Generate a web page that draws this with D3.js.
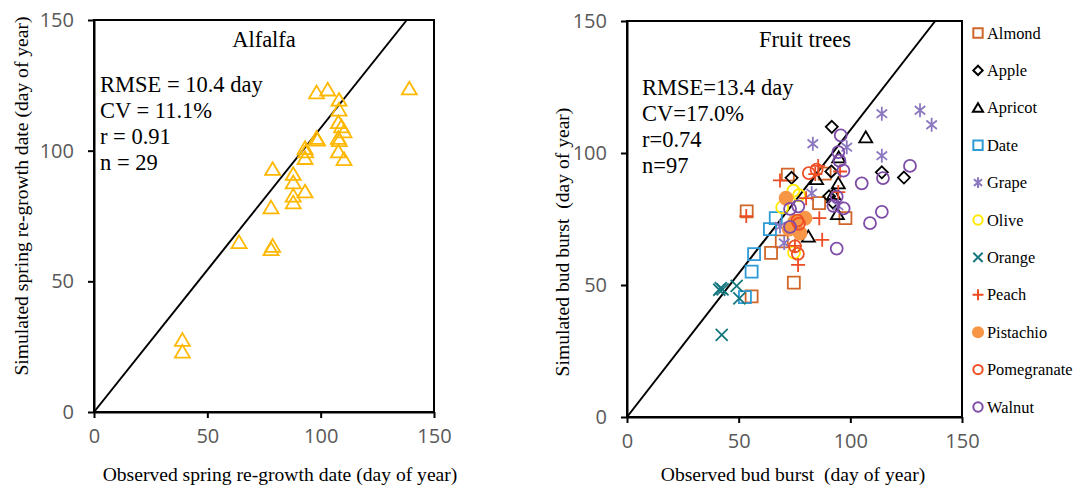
<!DOCTYPE html>
<html>
<head>
<meta charset="utf-8">
<script src="https://cdn.jsdelivr.net/npm/d3@7"></script>
<style>
  body { margin: 0; background: #fff; }
  .tick-label { font-family: "Open Sans", "Noto Sans", sans-serif; font-size: 20px; fill: #595959; }
  .serif { font-family: "Liberation Serif", "DejaVu Serif", serif; fill: #000; }
</style>
</head>
<body>
<svg id="chart" width="1075" height="486"></svg>
<script>
// ---- data: [observed, simulated] day of year ----
const alfalfa = [
  [139.1, 123.8], [98.2, 122.3], [103.1, 123.4], [108.1, 119.5], [108.1, 115.7],
  [107.8, 110.9], [109.2, 109.3], [110.3, 107.4], [107.8, 104.9], [108.2, 104.0],
  [107.8, 99.7], [110.3, 96.8], [98.2, 104.9], [98.6, 104.2], [93.1, 101.0],
  [93.4, 99.7], [93.1, 97.2], [78.8, 93.0], [87.9, 91.1], [87.9, 87.9],
  [93.1, 84.4], [87.9, 82.8], [87.9, 80.2], [78.1, 78.3], [64.0, 65.0],
  [78.8, 63.6], [78.1, 62.3], [39.0, 27.6], [39.0, 23.1]
];

const species = ["Almond", "Apple", "Apricot", "Date", "Grape", "Olive", "Orange",
                 "Peach", "Pistachio", "Pomegranate", "Walnut"];

const almond = [[53.6, 77.9], [72, 91.8], [88.5, 92.2], [86, 81], [97.8, 75.3], [64.5, 62.2],
                [69.3, 66.5], [74.7, 50.9], [55.8, 45.7]];
const apple = [[91.7, 109.9], [73.7, 90.6], [114.1, 92.7], [124, 90.7], [91.5, 93], [90.5, 83.6], [92.2, 81.3]];
const apricot = [[106.9, 106], [94.8, 98.4], [84.9, 90.2], [94.6, 88.6], [94.2, 76.9], [81.2, 68.4], [92.5, 84.5]];
const date = [[52.8, 45.4], [55.8, 55.1], [56.9, 61.7], [64, 71.2], [66.6, 75.3]];
const grape = [[114.1, 114.9], [131.2, 116.2], [136.4, 110.7], [114.1, 99], [83.2, 103.5], [98.4, 102.2],
               [82.7, 84.8], [70.4, 65.9], [94.5, 80], [68.5, 72.2]];
const olive = [[74.5, 85.7], [69.5, 79.4], [74.8, 62.3], [77, 84]];
const orange = [[41.3, 48.2], [42.8, 48.3], [42, 48.8], [49.1, 49.7], [50.3, 44.9], [42.4, 31.1]];
const peach = [[85.6, 95.1], [68.5, 89.6], [95.4, 93], [94.6, 85.2], [53.4, 76.1], [86.1, 75.3],
               [87.4, 67.1], [76.6, 57.6], [80.2, 82.9], [75.2, 64.8], [84.3, 92]];
const pistachio = [[71.2, 82.9], [79.7, 75.3], [72.6, 71.2], [77.5, 69.6], [75.2, 74.1]];
const pomegranate = [[81.4, 92.4], [84.9, 93.7], [76.3, 74.4], [77, 73.2], [75.2, 64.6], [76.5, 61.8]];
const walnut = [[95.7, 106.7], [94.6, 100.3], [95.1, 97.1], [96.9, 93.3], [105.1, 88.5], [114.6, 90.5],
                [126.7, 95.1], [114.1, 77.7], [108.8, 73.4], [93.9, 63.8], [92.4, 80], [97, 79],
                [73, 78.8], [76.7, 79.8], [73, 72], [93.9, 83.5]];

const fruitValues = [almond, apple, apricot, date, grape, olive, orange, peach, pistachio, pomegranate, walnut];

const ticks = [0, 50, 100, 150];
const lineEnd = [[0, 0], [138, 150]];

const leftStats = ["RMSE = 10.4 day", "CV = 11.1%", "r = 0.91", "n = 29"];
const rightStats = ["RMSE=13.4 day", "CV=17.0%", "r=0.74", "n=97"];

// ---- marker shapes (custom d3.symbol types, size = half width) ----
const shapes = {
  square: { draw(c, r) { c.rect(-r, -r, 2 * r, 2 * r); } },
  diamond: { draw(c, r) { c.moveTo(0, -r); c.lineTo(r, 0); c.lineTo(0, r); c.lineTo(-r, 0); c.closePath(); } },
  triangle: { draw(c, r) { c.moveTo(0, -r * 0.9); c.lineTo(r, r * 0.8); c.lineTo(-r, r * 0.8); c.closePath(); } },
  circle: { draw(c, r) { c.moveTo(r, 0); c.arc(0, 0, r, 0, 2 * Math.PI); } },
  plus: { draw(c, r) { c.moveTo(-r, 0); c.lineTo(r, 0); c.moveTo(0, -r); c.lineTo(0, r); } },
  times: { draw(c, r) { const a = r * 0.8; c.moveTo(-a, -a); c.lineTo(a, a); c.moveTo(a, -a); c.lineTo(-a, a); } },
  asterisk: { draw(c, r) { const a = r * 0.75; c.moveTo(0, -r); c.lineTo(0, r); c.moveTo(-a, -a * 0.8); c.lineTo(a, a * 0.8); c.moveTo(a, -a * 0.8); c.lineTo(-a, a * 0.8); } }
};

const styles = [
  { shape: "square", color: "#D0672A", fill: "none", r: 6 },
  { shape: "diamond", color: "#000", fill: "none", r: 6 },
  { shape: "triangle", color: "#000", fill: "none", r: 6.5 },
  { shape: "square", color: "#2E9BD6", fill: "none", r: 6 },
  { shape: "asterisk", color: "#8C78C0", fill: "none", r: 7 },
  { shape: "circle", color: "#FFEA00", fill: "none", r: 6 },
  { shape: "times", color: "#16787E", fill: "none", r: 7.5 },
  { shape: "plus", color: "#EE4B22", fill: "none", r: 7 },
  { shape: "circle", color: "#F79646", fill: "#F79646", r: 6.5 },
  { shape: "circle", color: "#EE5026", fill: "none", r: 6 },
  { shape: "circle", color: "#7E4CA8", fill: "none", r: 6 }
];

const svg = d3.select("#chart");

function drawPanel(xr, yr, opts) {
  const x = d3.scaleLinear().domain([0, 150]).range(xr);
  const y = d3.scaleLinear().domain([0, 150]).range(yr);
  const g = svg.append("g");

  // frame
  g.append("rect").attr("x", xr[0]).attr("y", yr[1])
    .attr("width", xr[1] - xr[0]).attr("height", yr[0] - yr[1])
    .attr("fill", "none").attr("stroke", "#000").attr("stroke-width", 2);

  const xAxis = g.append("g").attr("transform", `translate(0,${yr[0]})`)
    .call(d3.axisBottom(x).tickValues(ticks).tickSize(6).tickSizeOuter(0).tickPadding(11));
  const yAxis = g.append("g").attr("transform", `translate(${xr[0]},0)`)
    .call(d3.axisLeft(y).tickValues(ticks).tickSize(6).tickSizeOuter(0).tickPadding(opts.yPad));
  [xAxis, yAxis].forEach(a => {
    a.select(".domain").attr("stroke", "#000").attr("stroke-width", 2);
    a.selectAll(".tick line").attr("stroke", "#000").attr("stroke-width", 2);
    a.selectAll(".tick text").attr("class", "tick-label").attr("font-size", null).attr("font-family", null).attr("fill", null);
  });

  // 1:1 line
  g.append("path").datum(lineEnd)
    .attr("d", d3.line().x(d => x(d[0])).y(d => y(d[1])))
    .attr("stroke", "#000").attr("stroke-width", 2).attr("fill", "none");

  // panel title
  g.append("text").attr("class", "serif").attr("x", opts.titleX).attr("y", 47)
    .attr("text-anchor", "middle").attr("font-size", 22.5).text(opts.title);

  g.append("g").selectAll("text").data(opts.stats).join("text")
    .attr("class", "serif").attr("font-size", 22.5)
    .attr("x", opts.statX).attr("y", (d, i) => opts.statY + i * 26).text(d => d);

  // axis titles
  g.append("text").attr("class", "serif").attr("font-size", 19.6)
    .attr("x", opts.xTitleX).attr("y", 481).attr("text-anchor", "middle")
    .attr("xml:space", "preserve").text(opts.xTitle);
  g.append("text").attr("class", "serif").attr("font-size", 19.6)
    .attr("transform", `translate(${opts.yTitleX},${opts.yTitleY}) rotate(-90)`)
    .attr("text-anchor", "middle").attr("xml:space", "preserve").text(opts.yTitle);

  return { g, x, y };
}

// ---- left panel: alfalfa ----
const left = drawPanel([94, 434], [412, 20], {
  title: "Alfalfa", titleX: 264, stats: leftStats, statX: 100, statY: 92, yPad: 14,
  xTitle: "Observed spring re-growth date (day of year)", xTitleX: 280,
  yTitle: "Simulated spring re-growth date (day of year)", yTitleX: 28, yTitleY: 196
});
left.g.append("g").selectAll("path").data(alfalfa).join("path")
  .attr("transform", d => `translate(${left.x(d[0])},${left.y(d[1])})`)
  .attr("d", d3.symbol().type(shapes.triangle).size(7.5))
  .attr("fill", "none").attr("stroke", "#FFB800").attr("stroke-width", 1.8);

// ---- right panel: fruit trees ----
const right = drawPanel([627, 962], [417, 21], {
  title: "Fruit trees", titleX: 805, stats: rightStats, statX: 642, statY: 95, yPad: 14,
  xTitle: "Observed bud burst  (day of year)", xTitleX: 793,
  yTitle: "Simulated bud burst  (day of year)", yTitleX: 569, yTitleY: 242
});
fruitValues.forEach((pts, i) => {
  const s = styles[i];
  right.g.append("g").selectAll("path").data(pts).join("path")
    .attr("transform", d => `translate(${right.x(d[0])},${right.y(d[1])})`)
    .attr("d", d3.symbol().type(shapes[s.shape]).size(s.r))
    .attr("fill", s.fill).attr("stroke", s.color).attr("stroke-width", 1.8);
});

// ---- legend ----
const legend = svg.append("g").attr("transform", "translate(978,33)");
const rows = legend.selectAll("g").data(species).join("g")
  .attr("transform", (d, i) => `translate(0,${i * 37.4})`);
rows.append("path")
  .attr("d", (d, i) => d3.symbol().type(shapes[styles[i].shape]).size(styles[i].r * 0.78)())
  .attr("fill", (d, i) => styles[i].fill)
  .attr("stroke", (d, i) => styles[i].color)
  .attr("stroke-width", 2);
rows.append("text").attr("class", "serif").attr("font-size", 16.4)
  .attr("x", 9).attr("y", 5.5).text(d => d);
</script>
</body>
</html>
